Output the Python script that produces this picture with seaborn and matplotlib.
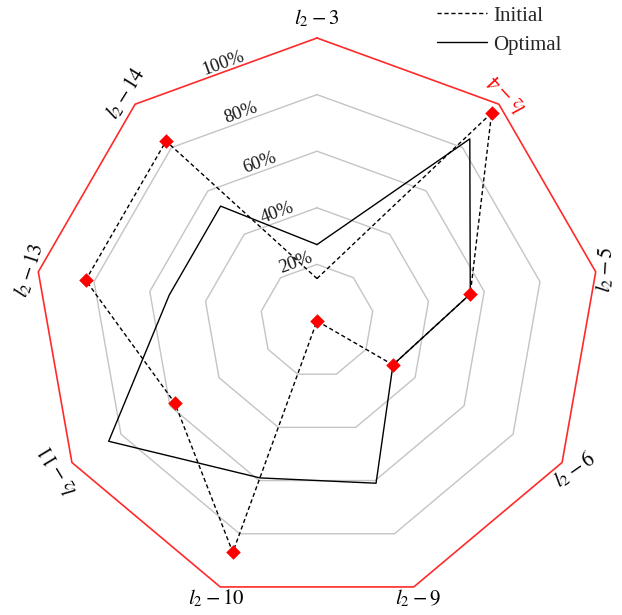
"""
Radar chart: initial vs optimal values on nine l2 branches.
"""

import numpy as np
import pandas as pd
import matplotlib
matplotlib.use("Agg")
import matplotlib.pyplot as plt
from matplotlib.lines import Line2D
import seaborn as sns

# ---------------------------------------------------------
# Data
# ---------------------------------------------------------
CATEGORIES = ["3", "4", "5", "6", "9", "10", "11", "13", "14"]
INITIAL = [0.15, 0.96, 0.55, 0.31, 0.0, 0.87, 0.58, 0.83, 0.83]
OPTIMAL = [0.27, 0.84, 0.55, 0.31, 0.61, 0.59, 0.85, 0.53, 0.53]
INITIAL_MARKED = [False, True, True, True, True, True, True, True, True]
RING_LEVELS = [0.2, 0.4, 0.6, 0.8, 1.0]
RING_LABELS = ["20%", "40%", "60%", "80%", "100%"]

# label styling (rotation in degrees, radius as fraction of 100%)
LABEL_ROT = [0, 133, 87, 35, 0, 0, 121, 72, 58]
LABEL_R = [1.07, 1.05, 1.035, 1.05, 1.045, 1.045, 1.055, 1.03, 1.05]
LABEL_COLOR = ["black", "red", "black", "black", "black", "black", "black", "black", "black"]


def build_frame(theta_c):
    n = len(CATEGORIES)
    return pd.DataFrame({
        "theta": np.concatenate([theta_c, theta_c]),
        "value": INITIAL + INITIAL[:1] + OPTIMAL + OPTIMAL[:1],
        "series": ["Initial"] * (n + 1) + ["Optimal"] * (n + 1),
    })


def plot_radar():
    sns.set_style("white")
    plt.rcParams["font.family"] = ["Liberation Serif", "DejaVu Serif"]
    plt.rcParams["mathtext.fontset"] = "stix"

    fig = plt.figure(figsize=(6.22, 6.15), dpi=100)
    W, H = 622, 615
    cx, cy, R = 317, 321, 283
    ax = fig.add_axes([(cx - R) / W, (H - cy - R) / H, 2 * R / W, 2 * R / H],
                      projection="polar")
    ax.set_theta_zero_location("N")
    ax.set_theta_direction(-1)

    n = len(CATEGORIES)
    theta = np.linspace(0, 2 * np.pi, n, endpoint=False)
    theta_c = np.append(theta, 2 * np.pi)

    # polygon grid rings
    for lv in RING_LEVELS:
        col = "#ff2a2a" if lv == 1.0 else "#c4c4c4"
        lw = 1.2 if lv == 1.0 else 1.0
        ax.plot(theta_c, [lv] * (n + 1), color=col, lw=lw, clip_on=False, zorder=1)

    # ring labels along the upper-left edge
    mid = np.deg2rad(340)
    for lv, txt in zip(RING_LEVELS, RING_LABELS):
        ax.text(mid, lv * np.cos(np.deg2rad(20)), txt, rotation=20,
                rotation_mode="anchor", ha="center", va="bottom",
                fontsize=13.5, color="#1a1a1a", zorder=2)

    df = build_frame(theta_c)
    sns.lineplot(data=df, x="theta", y="value", style="series",
                 dashes={"Initial": (3, 2), "Optimal": ""},
                 color="black", linewidth=1.0, sort=False, estimator=None,
                 legend=False, ax=ax, zorder=3)

    mask = np.array(INITIAL_MARKED)
    sns.scatterplot(x=theta[mask], y=np.array(INITIAL)[mask], marker="D",
                    color="red", s=55, linewidth=0, ax=ax, zorder=5,
                    clip_on=False)

    # category labels
    for i, cat in enumerate(CATEGORIES):
        ax.text(theta[i], LABEL_R[i], r"$l_2-$" + r"$" + cat + r"$",
                rotation=LABEL_ROT[i], rotation_mode="anchor",
                ha="center", va="center", fontsize=15, color=LABEL_COLOR[i])

    ax.set_ylim(0, 1.0)
    ax.set_xticks([])
    ax.set_yticks([])
    ax.grid(False)
    ax.spines["polar"].set_visible(False)
    ax.set_facecolor("none")
    ax.set_xlabel("")
    ax.set_ylabel("")

    handles = [
        Line2D([], [], color="black", lw=1.0, dashes=(3, 2)),
        Line2D([], [], color="black", lw=1.0),
    ]
    fig.legend(handles, ["Initial", "Optimal"], loc="upper left",
               bbox_to_anchor=(433 / W, 0.997), frameon=False, fontsize=15,
               handlelength=2.4, handletextpad=0.3, labelspacing=0.45,
               borderpad=0.2, borderaxespad=0)

    fig.savefig("out.png", dpi=100)
    plt.close(fig)


if __name__ == "__main__":
    plot_radar()
